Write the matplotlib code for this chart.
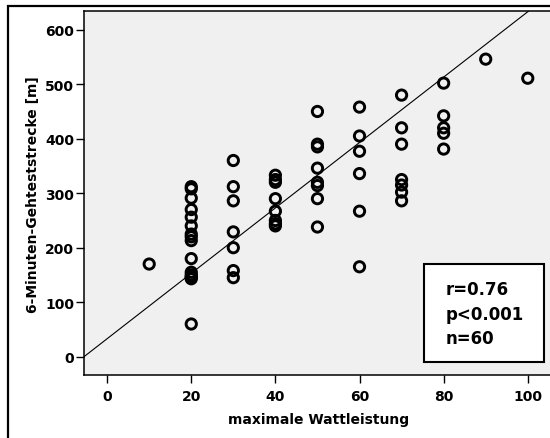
import numpy as np
import matplotlib
matplotlib.use("Agg")
import matplotlib.pyplot as plt
from matplotlib.patches import Rectangle

# max. Wattleistung (x) und 6-Minuten-Gehteststrecke in m (y), n=60
watt = [10,
        20, 20, 20, 20, 20, 20, 20, 20, 20, 20, 20, 20, 20, 20, 20, 20,
        30, 30, 30, 30, 30, 30, 30,
        40, 40, 40, 40, 40, 40, 40, 40,
        50, 50, 50, 50, 50, 50, 50, 50,
        60, 60, 60, 60, 60, 60,
        70, 70, 70, 70, 70, 70, 70,
        80, 80, 80, 80, 80,
        90, 100]
strecke = [170,
           312, 308, 291, 270, 256, 240, 225, 220, 213, 180, 155, 150, 147, 145, 143, 60,
           360, 312, 286, 229, 200, 158, 145,
           333, 325, 320, 290, 267, 250, 244, 240,
           450, 390, 385, 346, 320, 314, 290, 238,
           458, 405, 377, 336, 267, 165,
           480, 420, 390, 325, 315, 302, 286,
           502, 442, 420, 410, 381,
           546, 511]

# Regressionsgerade
fit_intercept = 33.0
fit_slope = 6.0

stats_lines = ["r=0.76", "p<0.001", "n=60"]
xticks = [0, 20, 40, 60, 80, 100]
yticks = [0, 100, 200, 300, 400, 500, 600]

fig = plt.figure(figsize=(5.5, 4.39), dpi=100)

# Rahmen um die ganze Grafik
fig.patches.append(Rectangle((8.3 / 550, -0.1), 1.2, 1.1 - 6.7 / 439,
                             transform=fig.transFigure, fill=False,
                             edgecolor="black", linewidth=1.6, zorder=0))

ax = fig.add_axes([84 / 550, 1 - 376 / 439, 469 / 550, 363.7 / 439])
ax.set_facecolor("#f0f0f0")
ax.set_xlim(-5.5, 106)
ax.set_ylim(-33.6, 633.8)

ax.scatter(watt, strecke, s=7.4 ** 2, facecolors="none", edgecolors="black",
           linewidths=2.1, zorder=3)

xs = np.array(ax.get_xlim())
ax.plot(xs, fit_intercept + fit_slope * xs, color="black", lw=0.8, zorder=2)

for sp in ax.spines.values():
    sp.set_linewidth(1.1)
ax.set_xticks(xticks)
ax.set_yticks(yticks)
ax.tick_params(direction="out", length=6, width=1, labelsize=10, pad=4)
ax.tick_params(axis="y", pad=1)
for lab in ax.get_xticklabels() + ax.get_yticklabels():
    lab.set_fontweight("bold")

ax.set_xlabel("maximale Wattleistung", fontsize=10, fontweight="bold", va="center")
ax.xaxis.set_label_coords(0.5, (376 - 420) / 363.7)
ax.set_ylabel("6-Minuten-Gehteststrecke [m]", fontsize=10, fontweight="bold", va="center")
ax.yaxis.set_label_coords((33 - 84) / 469, 0.5)

# Kasten mit Kennwerten
ax.add_patch(Rectangle((0.726, 0.035), 0.255, 0.27, transform=ax.transAxes,
                       facecolor="white", edgecolor="black", linewidth=1.5, zorder=4))
for txt, yy in zip(stats_lines, [0.241, 0.172, 0.108]):
    ax.text(0.771, yy, txt, transform=ax.transAxes, fontsize=12, fontweight="bold",
            ha="left", va="center_baseline", zorder=5)

fig.savefig("out.png", dpi=100)
